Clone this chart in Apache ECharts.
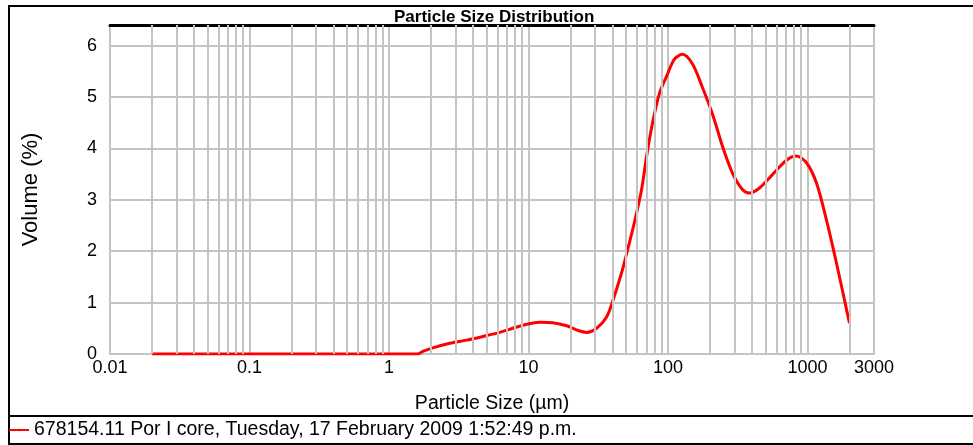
<!DOCTYPE html>
<html>
<head>
<meta charset="utf-8">
<script src="https://cdn.jsdelivr.net/npm/echarts@6/dist/echarts.min.js"></script>
<style>
	html, body { margin: 0; padding: 0; background: #fff; }
	#psdChart { width: 973px; height: 445px; }
</style>
</head>
<body>
<div id="psdChart"></div>
<script>
	// particle size (um)
	var sizes = [0.02, 1.0, 1.6, 1.75, 2.06, 2.73, 3.61, 4.70, 6.22, 7.71, 9.71, 12.0, 14.9, 18.8, 22.1, 26.1, 30.8,
		36.3, 40.1, 46.5, 51.4, 57.7, 64.7, 70.3, 77.6, 87.1, 97.7, 111, 127, 150, 177, 209, 246, 290, 342,
		384, 453, 561, 707, 834, 984, 1159, 1368, 1614, 2000];
	// volume (%)
	var volumes = [0, 0, 0, 0.05, 0.12, 0.21, 0.27, 0.34, 0.42, 0.50, 0.58, 0.62, 0.61, 0.55, 0.47, 0.42, 0.50,
		0.72, 1.02, 1.58, 2.03, 2.58, 3.20, 3.85, 4.50, 5.08, 5.40, 5.73, 5.83, 5.64, 5.18, 4.66, 4.04, 3.52, 3.20,
		3.13, 3.23, 3.49, 3.77, 3.85, 3.72, 3.33, 2.61, 1.77, 0.60];
	// minor grid lines of the log axis
	var minorGrid = [0.02, 0.03, 0.04, 0.05, 0.06, 0.07, 0.08, 0.09,
		0.2, 0.3, 0.4, 0.5, 0.6, 0.7, 0.8, 0.9,
		2, 3, 4, 5, 6, 7, 8, 9,
		20, 30, 40, 50, 60, 70, 80, 90,
		200, 300, 400, 500, 600, 700, 800, 900,
		2000];
	var seriesName = '678154.11 Por I core, Tuesday, 17 February 2009 1:52:49 p.m.';

	var gridColor = '#c4c4c4';
	var font = 'Liberation Sans, Arial, sans-serif';

	var curve = [];
	for (var i = 0; i < sizes.length; i++) {
		curve.push([sizes[i], volumes[i]]);
	}

	var psd_option = {
		animation: false,
		textStyle: { fontFamily: font, color: '#000' },
		title: {
			text: 'Particle Size Distribution',
			left: 394,
			top: 9,
			padding: 0,
			textStyle: { fontSize: 17, fontWeight: 'bold', color: '#000', fontFamily: font }
		},
		grid: { left: 110, right: 99, top: 25, bottom: 91 },
		legend: {
			left: 8,
			top: 420,
			padding: 0,
			itemWidth: 20,
			itemHeight: 3,
			textStyle: { fontSize: 19.5, color: '#000', fontFamily: font },
			data: [seriesName]
		},
		xAxis: [
			{
				type: 'log',
				logBase: 10,
				min: 0.01,
				max: 3000,
				name: 'Particle Size (µm)',
				nameLocation: 'middle',
				nameGap: 40,
				nameTextStyle: { fontSize: 19.5, color: '#000' },
				axisLine: { lineStyle: { color: gridColor, width: 2 } },
				axisTick: { show: false },
				axisLabel: {
					fontSize: 18,
					color: '#000',
					margin: 5,
					showMinLabel: true,
					showMaxLabel: true,
					formatter: function (v) { return String(+(+v).toPrecision(6)); }
				},
				splitLine: { show: true, lineStyle: { color: gridColor, width: 2 } }
			},
			{
				// black line along the top of the plot
				type: 'log',
				logBase: 10,
				min: 0.01,
				max: 3000,
				position: 'top',
				axisLine: { lineStyle: { color: '#000', width: 3 } },
				axisTick: { show: false },
				axisLabel: { show: false },
				splitLine: { show: false }
			}
		],
		yAxis: {
			type: 'value',
			min: 0,
			max: 6.4,
			interval: 1,
			name: 'Volume (%)',
			nameLocation: 'middle',
			nameRotate: 90,
			nameGap: 68,
			nameTextStyle: { fontSize: 22, color: '#000' },
			axisLine: { show: true, lineStyle: { color: gridColor, width: 2 } },
			axisTick: { show: false },
			axisLabel: {
				fontSize: 18,
				color: '#000',
				margin: 13,
				formatter: function (v) { return v % 1 === 0 ? String(v) : ''; }
			},
			splitLine: { show: true, lineStyle: { color: gridColor, width: 2 } }
		},
		graphic: [
			{ type: 'line', silent: true, shape: { x1: 9, y1: 6, x2: 9, y2: 445 }, style: { stroke: '#000', lineWidth: 2 } },
			{ type: 'line', silent: true, shape: { x1: 8, y1: 6, x2: 973, y2: 6 }, style: { stroke: '#000', lineWidth: 2 } },
			{ type: 'line', silent: true, shape: { x1: 8, y1: 416, x2: 973, y2: 416 }, style: { stroke: '#000', lineWidth: 2 } },
			{ type: 'line', silent: true, shape: { x1: 8, y1: 444, x2: 973, y2: 444 }, style: { stroke: '#000', lineWidth: 2 } }
		],
		series: [
			{
				// minor vertical grid lines
				type: 'line',
				name: 'grid',
				silent: true,
				z: 1,
				data: [],
				markLine: {
					silent: true,
					symbol: 'none',
					label: { show: false },
					lineStyle: { color: gridColor, width: 2, type: 'solid' },
					data: minorGrid.map(function (v) { return { xAxis: v }; })
				}
			},
			{
				name: seriesName,
				type: 'line',
				z: 3,
				symbol: 'none',
				smooth: 0.3,
				lineStyle: { color: '#ff0000', width: 3 },
				itemStyle: { color: '#ff0000' },
				data: curve
			}
		]
	};

	var psdChart = echarts.init(document.getElementById('psdChart'));
	psdChart.setOption(psd_option, true);
</script>
</body>
</html>
